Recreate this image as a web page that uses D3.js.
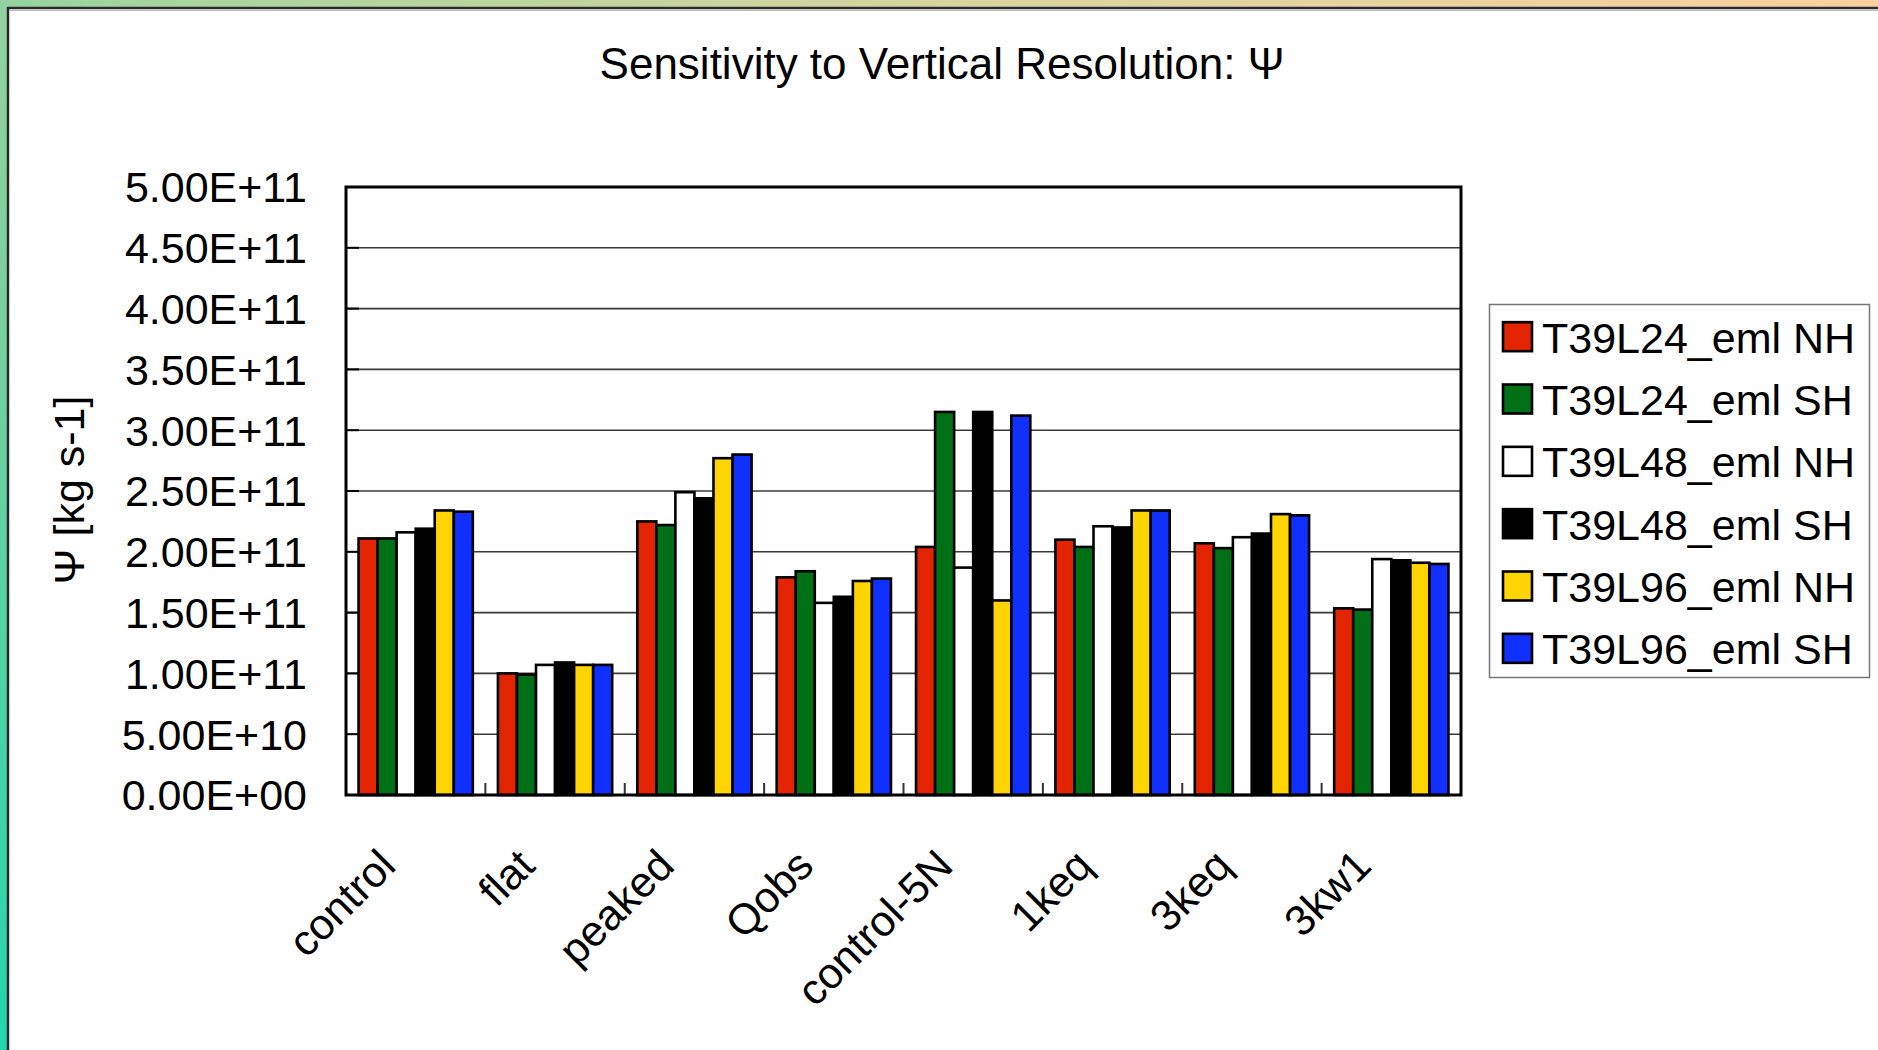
<!DOCTYPE html>
<html>
<head>
<meta charset="utf-8">
<script src="https://cdn.jsdelivr.net/npm/d3@7"></script>
<style>
  html, body { margin: 0; padding: 0; background: #fff; }
  svg { display: block; font-family: "Liberation Sans", Arial, Helvetica, sans-serif; }
</style>
</head>
<body>
<svg id="chart" width="1878" height="1050"></svg>
<script>
// Categories (experiments) along the x axis
const categories = ["control", "flat", "peaked", "Qobs", "control-5N", "1keq", "3keq", "3kw1"];

// Series names, in legend order
const seriesNames = [
  "T39L24_eml NH", "T39L24_eml SH",
  "T39L48_eml NH", "T39L48_eml SH",
  "T39L96_eml NH", "T39L96_eml SH"
];
const seriesColors = ["#e22400", "#007016", "#ffffff", "#000000", "#ffd400", "#1030ff"];

// Mass streamfunction maxima, kg s-1
const l24NH = [2.11e11, 1.00e11, 2.25e11, 1.79e11, 2.04e11, 2.10e11, 2.07e11, 1.535e11];
const l24SH = [2.11e11, 0.99e11, 2.22e11, 1.84e11, 3.15e11, 2.04e11, 2.03e11, 1.525e11];
const l48NH = [2.16e11, 1.07e11, 2.49e11, 1.58e11, 1.87e11, 2.21e11, 2.12e11, 1.94e11];
const l48SH = [2.19e11, 1.09e11, 2.44e11, 1.63e11, 3.15e11, 2.20e11, 2.15e11, 1.93e11];
const l96NH = [2.34e11, 1.07e11, 2.77e11, 1.76e11, 1.60e11, 2.34e11, 2.31e11, 1.91e11];
const l96SH = [2.33e11, 1.07e11, 2.80e11, 1.78e11, 3.12e11, 2.34e11, 2.30e11, 1.90e11];
const seriesValues = [l24NH, l24SH, l48NH, l48SH, l96NH, l96SH];

// Y axis ticks
const yTicks = [0, 0.5e11, 1.0e11, 1.5e11, 2.0e11, 2.5e11, 3.0e11, 3.5e11, 4.0e11, 4.5e11, 5.0e11];
const yMax = 5.0e11;

const titleText = "Sensitivity to Vertical Resolution:  \u03A8";
const yLabelText = "\u03A8  [kg s-1]";

// Excel-style scientific notation: 2.50E+11
function sci(v) {
  const [m, e] = v.toExponential(2).split("e");
  const sign = e[0] === "-" ? "-" : "+";
  const digits = e.replace(/[+-]/, "").padStart(2, "0");
  return m + "E" + sign + digits;
}

const W = 1878, H = 1050;
const plot = { left: 346, top: 187, right: 1461, bottom: 795 };

const svg = d3.select("#chart");

// Backdrop gradient behind the slide panel
const defs = svg.append("defs");
const grad = defs.append("linearGradient")
  .attr("id", "bg").attr("gradientUnits", "userSpaceOnUse")
  .attr("x1", 0).attr("y1", H).attr("x2", W).attr("y2", 0);
[[0, "#22d6aa"], [0.18, "#7fd0a0"], [0.3, "#a8d4a0"], [0.6, "#d4d4a0"], [1, "#fad0a0"]]
  .forEach(([o, c]) => grad.append("stop").attr("offset", o).attr("stop-color", c));
svg.append("rect").attr("width", W).attr("height", H).attr("fill", "url(#bg)");

// White panel
svg.append("rect")
  .attr("x", 8).attr("y", 8).attr("width", W).attr("height", H)
  .attr("fill", "#fff").attr("stroke", "#2a2a2a").attr("stroke-width", 2.5);
svg.append("line")
  .attr("x1", 9).attr("x2", W).attr("y1", 10.5).attr("y2", 10.5)
  .attr("stroke", "#bbb").attr("stroke-width", 1);

// Scales
const x = d3.scaleBand()
  .domain(categories)
  .range([plot.left, plot.right])
  .paddingInner(0.18)
  .paddingOuter(0.09);
const xs = d3.scaleBand()
  .domain(d3.range(seriesNames.length))
  .range([0, x.bandwidth()]);
const y = d3.scaleLinear().domain([0, yMax]).range([plot.bottom, plot.top]);

// Plot background
svg.append("rect")
  .attr("x", plot.left).attr("y", plot.top)
  .attr("width", plot.right - plot.left).attr("height", plot.bottom - plot.top)
  .attr("fill", "#fff");

// Gridlines
svg.append("g")
  .selectAll("line")
  .data(yTicks.filter(t => t > 0 && t < yMax))
  .join("line")
  .attr("x1", plot.left).attr("x2", plot.right)
  .attr("y1", d => y(d)).attr("y2", d => y(d))
  .attr("stroke", "#3a3a3a").attr("stroke-width", 1.6);

// Inward tick marks on the value axis
svg.append("g")
  .selectAll("line")
  .data(yTicks)
  .join("line")
  .attr("x1", plot.left).attr("x2", plot.left + 13)
  .attr("y1", d => y(d)).attr("y2", d => y(d))
  .attr("stroke", "#000").attr("stroke-width", 2);

// Category separators (inward ticks on the category axis)
svg.append("g")
  .selectAll("line")
  .data(categories.slice(1))
  .join("line")
  .attr("x1", d => x(d) - x.step() * x.paddingInner() / 2)
  .attr("x2", d => x(d) - x.step() * x.paddingInner() / 2)
  .attr("y1", plot.bottom).attr("y2", plot.bottom - 12)
  .attr("stroke", "#333").attr("stroke-width", 2);

// Bars
const groups = svg.append("g")
  .selectAll("g")
  .data(categories)
  .join("g")
  .attr("transform", d => `translate(${x(d)},0)`);

groups.selectAll("rect")
  .data((c, ci) => seriesValues.map((vals, si) => ({ si, v: vals[ci] })))
  .join("rect")
  .attr("x", d => xs(d.si))
  .attr("width", xs.bandwidth())
  .attr("y", d => y(d.v))
  .attr("height", d => y(0) - y(d.v))
  .attr("fill", d => seriesColors[d.si])
  .attr("stroke", "#000")
  .attr("stroke-width", 2.6);

// Plot frame
svg.append("rect")
  .attr("x", plot.left).attr("y", plot.top)
  .attr("width", plot.right - plot.left).attr("height", plot.bottom - plot.top)
  .attr("fill", "none").attr("stroke", "#000").attr("stroke-width", 3);

// Y tick labels
svg.append("g")
  .selectAll("text")
  .data(yTicks)
  .join("text")
  .attr("x", 307)
  .attr("y", d => y(d))
  .attr("dy", "0.36em")
  .attr("text-anchor", "end")
  .attr("font-size", 43)
  .attr("fill", "#000")
  .text(d => sci(d));

// X category labels, rotated
svg.append("g")
  .selectAll("text")
  .data(categories)
  .join("text")
  .attr("text-anchor", "end")
  .attr("font-size", 43)
  .attr("fill", "#000")
  .attr("transform", d => `translate(${x(d) + x.bandwidth() / 2 - 18},868) rotate(-45)`)
  .text(d => d);

// Title
svg.append("text")
  .attr("x", 942).attr("y", 79)
  .attr("text-anchor", "middle")
  .attr("font-size", 44)
  .attr("fill", "#000")
  .text(titleText);

// Y axis title
svg.append("text")
  .attr("transform", "translate(84,490) rotate(-90)")
  .attr("text-anchor", "middle")
  .attr("font-size", 43)
  .attr("fill", "#000")
  .text(yLabelText);

// Legend
const legend = svg.append("g");
legend.append("rect")
  .attr("x", 1489.5).attr("y", 304.5).attr("width", 380).attr("height", 373)
  .attr("fill", "#fff").attr("stroke", "#777").attr("stroke-width", 1.5);
const rowY = d3.scaleBand().domain(d3.range(seriesNames.length)).range([306, 680]);
const items = legend.selectAll("g.item")
  .data(seriesNames)
  .join("g")
  .attr("class", "item")
  .attr("transform", (d, i) => `translate(0,${rowY(i) + rowY.bandwidth() / 2})`);
items.append("rect")
  .attr("x", 1503).attr("y", -15).attr("width", 29).attr("height", 29)
  .attr("fill", (d, i) => seriesColors[i])
  .attr("stroke", "#000").attr("stroke-width", 2.6);
items.append("text")
  .attr("x", 1542).attr("y", 0).attr("dy", "0.36em")
  .attr("font-size", 43)
  .attr("fill", "#000")
  .text(d => d);
</script>
</body>
</html>
